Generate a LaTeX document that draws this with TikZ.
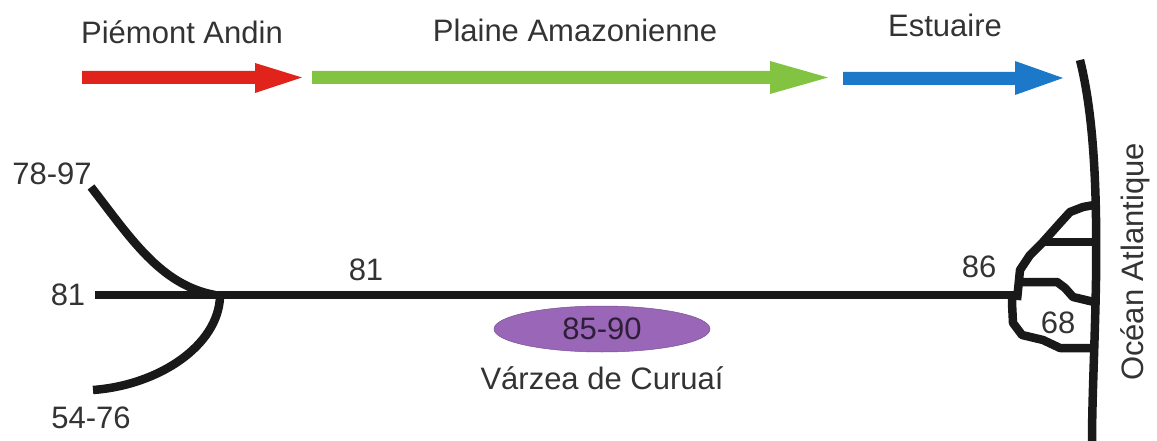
\documentclass[tikz,border=0pt]{standalone}
\usepackage{fontspec}
\setmainfont{Liberation Sans}
\usetikzlibrary{shapes.geometric}
\begin{document}
\begin{tikzpicture}[x=1pt,y=-1pt,
  lbl/.style={inner sep=0pt,font=\fontsize{31}{34}\selectfont,text=black!80},
  river/.style={line width=8.5pt,black!90,line cap=butt,line join=round}]
\useasboundingbox (0,0) rectangle (1157,441);
\definecolor{cred}{HTML}{E0231B}
\definecolor{cgreen}{HTML}{82C341}
\definecolor{cblue}{HTML}{1C78C8}
\definecolor{cpurple}{HTML}{9966B8}
% arrows
\fill[cred] (82,71) -- (255,71) -- (255,63) -- (302,77.5) -- (255,93) -- (255,84) -- (82,84) -- cycle;
\fill[cgreen] (312,71) -- (770,71) -- (770,61) -- (828,77.5) -- (770,94) -- (770,84) -- (312,84) -- cycle;
\fill[cblue] (843,72) -- (1015,72) -- (1015,61) -- (1063,78) -- (1015,95) -- (1015,85) -- (843,85) -- cycle;
\node[lbl] (tpa) at (182,32) {Piémont Andin};
\node[lbl] (tpl) at (575,30) {Plaine Amazonienne};
\node[lbl] (tes) at (945,25) {Estuaire};
% main river
\coordinate (L) at (95,295);
\coordinate (J) at (215,295);
\coordinate (R) at (1014,295);
\draw[river] (L) -- (R);
\draw[river] (91,187) .. controls (130,237) and (160,285) .. (J);
\draw[river] (220,297) .. controls (218,345) and (160,385) .. (93,390);
% coast
\draw[river] (1080,60) .. controls (1095,120) and (1097,200) .. (1096,280) .. controls (1095,340) and (1092,400) .. (1092,441);
% delta
\draw[river] (1017,300) -- (1020,270) -- (1030,255) -- (1043,242) -- (1060,223) -- (1070,212) -- (1083,207) -- (1094,205);
\draw[river] (1043,242) -- (1095,242);
\draw[river] (1020,282) -- (1057,282) -- (1065,288) -- (1073,297) -- (1094,302);
\draw[river] (1012,295) -- (1012,303) -- (1013,323) -- (1022,335) -- (1043,340) -- (1060,348) -- (1093,348);
% labels
\node[lbl] (a) at (52,174) {78-97};
\node[lbl] (b) at (68,295) {81};
\node[lbl] (c) at (91,418) {54-76};
\node[lbl] (d) at (366,270) {81};
\node[lbl] (e) at (979,267) {86};
\node[lbl] (f) at (1058,323) {68};
\node[ellipse,draw=cpurple!80!black,line width=0.5pt,fill=cpurple,minimum width=216pt,minimum height=46pt,inner sep=0pt] (v) at (602,329) {};
\node[lbl,text=black!70!cpurple] at (v) {85-90};
\node[lbl] (g) at (602,378) {Várzea de Curuaí};
\node[lbl,rotate=90] (h) at (1135,262) {Océan Atlantique};
\end{tikzpicture}
\end{document}
